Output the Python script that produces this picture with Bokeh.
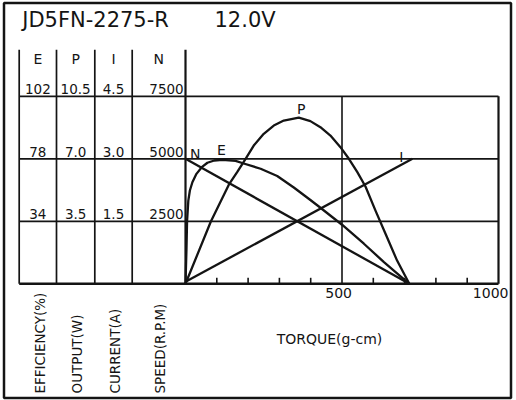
import numpy as np
from bokeh.plotting import figure
from bokeh.models import Range1d
from bokeh.core.properties import value
from bokeh.embed import file_html
from bokeh.resources import INLINE

# ---------------- texts and tick labels ----------------
model_name = "JD5FN-2275-R"
voltage_label = "12.0V"
column_headers = ["E", "P", "I", "N"]
eff_tick_labels = ["102", "78", "34"]
out_tick_labels = ["10.5", "7.0", "3.5"]
cur_tick_labels = ["4.5", "3.0", "1.5"]
spd_tick_labels = ["7500", "5000", "2500"]
axis_titles = ["EFFICIENCY(%)", "OUTPUT(W)", "CURRENT(A)", "SPEED(R.P.M)"]
torque_title = "TORQUE(g-cm)"
torque_major = [500, 1000]
torque_minor = [100, 200, 300, 400, 600, 700, 800, 900]
torque_max = 1000

# ---------------- data series ----------------
speed_torque = [0, 715]
speed_rpm = [5000, 0]

current_torque = [0, 725]
current_amp = [0.05, 3.0]

output_torque = [0, 81, 140, 165, 192, 218, 250, 282, 314, 362, 399, 431,
                 463, 495, 522, 549, 575, 607, 639, 676, 715]
output_watt = [0, 3.49, 5.60, 6.25, 7.0, 7.74, 8.40, 8.86, 9.14, 9.30, 9.11,
               8.77, 8.30, 7.65, 7.0, 6.25, 5.45, 4.10, 2.80, 1.30, 0]

eff_torque = [0, 3, 5, 9, 14, 22, 35, 52, 70, 92, 118, 160, 186, 240, 293,
              346, 399, 426, 501, 570, 634, 715]
eff_percent = [0, 18.1, 33.9, 48.6, 55.7, 61.5, 67.4, 72.1, 75.2, 76.8, 77.3,
               76.5, 74.7, 71.0, 65.9, 57.8, 49.0, 44.4, 32.0, 21.8, 11.8, 0]

# ---------------- scales (from the tick labels) ----------------
def scale_of(labels):
    return [0.0] + [float(v) for v in reversed(labels)]

spd_scale = scale_of(spd_tick_labels)
eff_scale = scale_of(eff_tick_labels)
out_scale = scale_of(out_tick_labels)
cur_scale = scale_of(cur_tick_labels)
grid_levels = spd_scale  # 0, 2500, 5000, 7500

def to_chart(vals, scale):
    return list(np.interp(vals, scale, spd_scale))

# ---------------- layout (pixels) ----------------
W, H = 516, 400
X0, KX = 185.0, 0.313      # x pixel of torque 0, px per g-cm
Y0, KY = 283.3, 0.025      # y pixel of chart 0, px per chart unit

def dx(px):
    return (px - X0) / KX

def dy(py):
    return (Y0 - py) / KY

FONT = value("DejaVu Sans")
INK = "#141414"

p = figure(width=W, height=H, output_backend="svg", toolbar_location=None,
           x_range=Range1d(dx(0), dx(W)),
           y_range=Range1d(dy(H), dy(0)),
           x_axis_location=None, y_axis_location=None,
           min_border=0, min_border_left=0, min_border_right=0,
           min_border_top=0, min_border_bottom=0)
p.outline_line_color = None
p.xgrid.visible = False
p.ygrid.visible = False
p.background_fill_color = "white"
p.border_fill_color = "white"

# outer border
p.quad(left=dx(3.5), right=dx(510.5), top=dy(2.5), bottom=dy(397.5),
       fill_color=None, line_color=INK, line_width=2.5)

# table columns
col_edges = [18.7, 56.0, 94.3, 131.7, X0]
table_top = dy(49.3)
p.segment(x0=[dx(c) for c in col_edges[:-1]], y0=[table_top] * 4,
          x1=[dx(c) for c in col_edges[:-1]], y1=[0] * 4,
          line_color=INK, line_width=1.7)
p.segment(x0=[0], y0=[table_top], x1=[0], y1=[0], line_color=INK, line_width=2.2)

# horizontal lines
p.segment(x0=[dx(col_edges[0])] * 3, y0=grid_levels[1:],
          x1=[torque_max] * 3, y1=grid_levels[1:],
          line_color=INK, line_width=1.7)
p.segment(x0=[dx(col_edges[0])], y0=[0], x1=[torque_max], y1=[0],
          line_color=INK, line_width=2.6)

# right frame and 500 grid line
p.segment(x0=[torque_max], y0=[0], x1=[torque_max], y1=[grid_levels[-1]],
          line_color=INK, line_width=2.2)
p.segment(x0=torque_major[:-1], y0=[0] * (len(torque_major) - 1),
          x1=torque_major[:-1], y1=[grid_levels[-1]] * (len(torque_major) - 1),
          line_color=INK, line_width=1.6)
# minor ticks
p.segment(x0=torque_minor, y0=[0] * len(torque_minor),
          x1=torque_minor, y1=[6 / KY] * len(torque_minor),
          line_color=INK, line_width=1.6)

# ---------------- curves ----------------
lw = 2.3
p.line(speed_torque, speed_rpm, line_color=INK, line_width=lw)
p.line(current_torque, to_chart(current_amp, cur_scale), line_color=INK, line_width=lw)
p.line(output_torque, to_chart(output_watt, out_scale), line_color=INK, line_width=lw,
       line_join="round")
p.line(eff_torque, to_chart(eff_percent, eff_scale), line_color=INK, line_width=lw,
       line_join="round")

# curve labels (text_baseline middle: y is the visual centre)
lab_fs = "14px"
common = dict(text_baseline="middle", text_font=FONT, text_color=INK)
p.text(x=[speed_torque[0]], y=[speed_rpm[0]], text=["N"], x_offset=4.5, y_offset=-4.8,
       text_align="left", text_font_size=lab_fs, **common)
ie = int(np.argmax(eff_percent))
p.text(x=[eff_torque[ie]], y=to_chart([eff_percent[ie]], eff_scale), text=["E"],
       x_offset=-1, y_offset=-9.3, text_align="center", text_font_size=lab_fs, **common)
ip = int(np.argmax(output_watt))
p.text(x=[output_torque[ip]], y=to_chart([output_watt[ip]], out_scale), text=["P"],
       x_offset=2.5, y_offset=-9, text_align="center", text_font_size=lab_fs, **common)
p.text(x=[current_torque[-1]], y=to_chart([current_amp[-1]], cur_scale), text=["I"],
       x_offset=-11, y_offset=-1.6, text_align="center", text_font_size=lab_fs, **common)

# ---------------- titles and table texts ----------------
p.text(x=[dx(21.7)], y=[dy(19.7)], text=[model_name], text_align="left",
       text_font_size="21px", **common)
p.text(x=[dx(214)], y=[dy(19.7)], text=[voltage_label], text_align="left",
       text_font_size="21px", **common)

centers = [(col_edges[i] + col_edges[i + 1]) / 2 for i in range(4)]
p.text(x=[dx(c) for c in centers], y=[dy(58.3)] * 4, text=column_headers,
       text_align="center", text_font_size="14px", **common)

row_levels = list(reversed(grid_levels[1:]))  # 7500, 5000, 2500
for ci, labels in enumerate([eff_tick_labels, out_tick_labels, cur_tick_labels]):
    p.text(x=[dx(centers[ci])] * 3, y=row_levels, text=labels, y_offset=-7,
           text_align="center", text_font_size="13.5px", **common)
p.text(x=[dx(X0 - 1.8)] * 3, y=row_levels, text=spd_tick_labels, y_offset=-7,
       text_align="right", text_font_size="13.5px", **common)

# torque tick labels
p.text(x=torque_major, y=[0] * len(torque_major), text=[str(t) for t in torque_major],
       x_offset=10, y_offset=8.7, text_align="right", text_font_size="14px", **common)
p.text(x=[dx(329)], y=[dy(338.5)], text=[torque_title], text_align="center",
       text_font_size="14px", **common)

# rotated axis titles
title_x = [39.5, 76.5, 114.0, 159.0]
p.text(x=[dx(v) for v in title_x], y=[dy(393)] * 4, text=axis_titles, angle=np.pi / 2,
       text_align="left", text_font_size="13.5px", **common)

open("out.html", "w").write(file_html(p, INLINE))
